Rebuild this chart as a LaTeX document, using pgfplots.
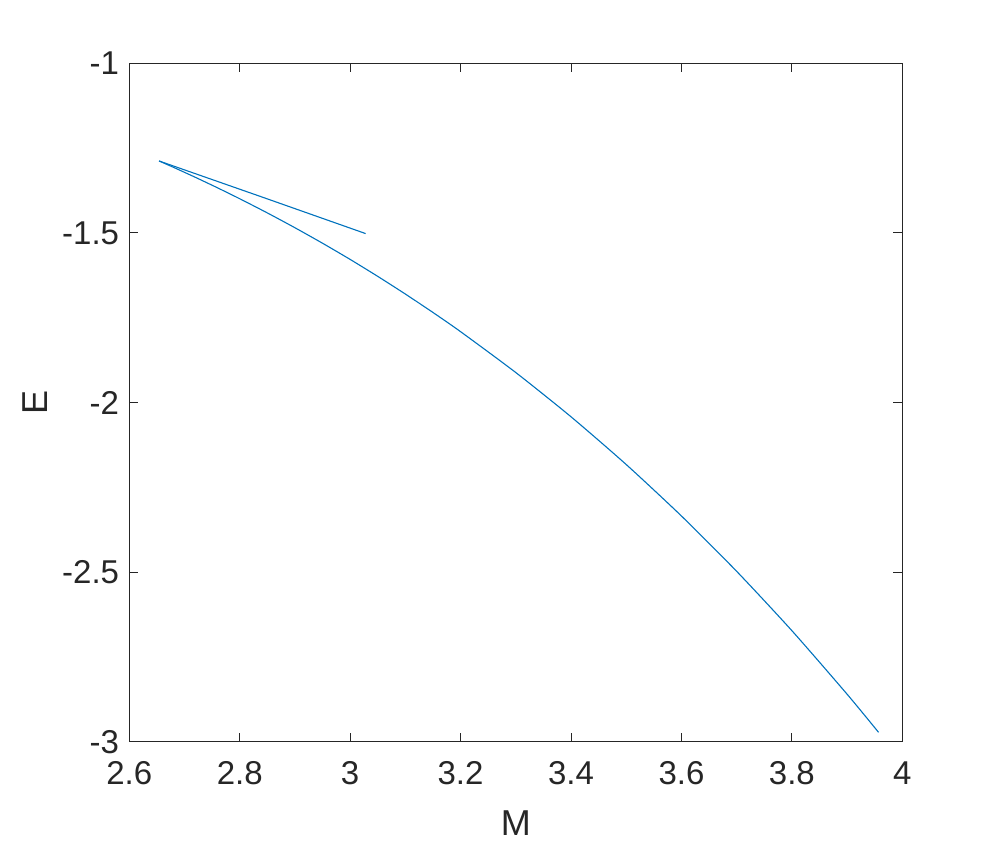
\documentclass[border=0pt]{standalone}
\usepackage{fontspec}
\setmainfont{Liberation Sans}
\usepackage{pgfplots}
\pgfplotsset{compat=1.18}
\definecolor{mblue}{rgb}{0,0.447,0.741}
\definecolor{maxis}{rgb}{0.15,0.15,0.15}
\begin{document}
\begin{tikzpicture}
\begin{axis}[
  scale only axis,
  width=386.5pt, height=339.2pt,
  xmin=2.6, xmax=4, ymin=-3, ymax=-1,
  xtick={2.6,2.8,3,3.2,3.4,3.6,3.8,4},
  xticklabels={2.6,2.8,3,3.2,3.4,3.6,3.8,4},
  ytick={-3,-2.5,-2,-1.5,-1},
  yticklabels={-3,-2.5,-2,-1.5,-1},
  tick align=inside, tick pos=both,
  major tick length=4.5pt,
  axis line style={maxis, line width=0.5pt},
  every tick/.style={maxis, line width=0.5pt},
  tick label style={font=\fontsize{16.5}{19}\selectfont, text=maxis},
  xticklabel style={yshift=-6.5pt},
  yticklabel style={xshift=-1.6pt},
  xlabel={M}, ylabel={E},
  label style={font=\fontsize{18}{21}\selectfont, text=maxis},
  xlabel style={at={(axis description cs:0.5,-0.1206)}, anchor=center},
  ylabel style={at={(axis description cs:-0.1221,0.5)}, anchor=center},
  clip=false,
]
% upper branch
\addplot[mblue, line width=0.55pt] coordinates {
(3.028,-1.502) (2.84,-1.394) (2.654,-1.288)
};
% lower branch
\addplot[mblue, line width=0.55pt, smooth, tension=0.4] coordinates {
(2.654,-1.2880) (2.68,-1.3067) (2.72,-1.3364) (2.76,-1.3673) (2.80,-1.3993)
(2.85,-1.4411) (2.90,-1.4848) (2.95,-1.5305) (3.00,-1.5782) (3.05,-1.6282)
(3.10,-1.6803) (3.15,-1.7346) (3.20,-1.7912) (3.30,-1.9117) (3.40,-2.0421)
(3.50,-2.1829) (3.60,-2.3346) (3.70,-2.4977) (3.80,-2.6726) (3.90,-2.8599)
(3.957,-2.9724)
};
\coordinate (sw) at (rel axis cs:0,0);
\coordinate (ne) at (rel axis cs:1,1);
\end{axis}
\path ([shift={(-64.65pt,-52.65pt)}]sw) rectangle ([shift={(47.35pt,31.65pt)}]ne);
\end{tikzpicture}
\end{document}
